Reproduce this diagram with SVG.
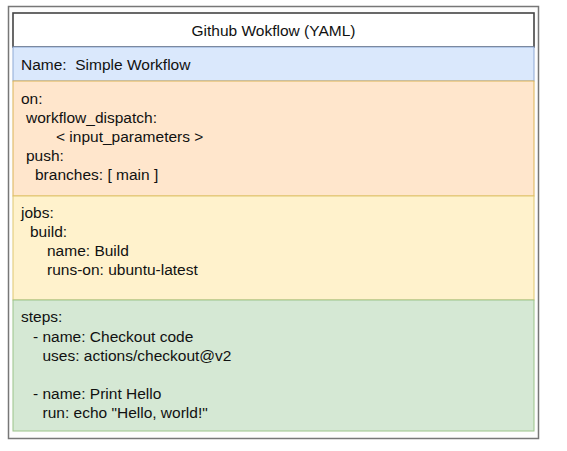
<svg xmlns="http://www.w3.org/2000/svg" width="567" height="451" viewBox="0 0 567 451">
<style>
text{font-family:"Liberation Sans",Arial,Helvetica,sans-serif;fill:#111;font-size:15.5px;}
</style>
<rect width="567" height="451" fill="#fff"/>
<g id="frame">
<rect x="8.5" y="6.5" width="530" height="432" fill="#fdfdfd" stroke="#777" stroke-width="1.5"/>
</g>
<g id="title">
<rect x="13" y="13" width="521" height="34" fill="#fff" stroke="#444" stroke-width="1.6"/>
<text x="273.5" y="36" text-anchor="middle">Github Wokflow (YAML)</text>
</g>
<g id="name">
<rect x="13" y="47" width="521" height="34" fill="#dae8fc" stroke="#8ea9d6" stroke-width="1"/>
<text x="21" y="70" xml:space="preserve">Name:  Simple Workflow</text>
</g>
<g id="on">
<rect x="13" y="81" width="521" height="115" fill="#ffe6cc" stroke="#dcb456" stroke-width="1"/>
<text x="21" y="104">on:</text>
<text x="26" y="123">workflow_dispatch:</text>
<text x="56" y="142">&lt; input_parameters &gt;</text>
<text x="26" y="161">push:</text>
<text x="35" y="180">branches: [ main ]</text>
</g>
<g id="jobs">
<rect x="13" y="196" width="521" height="104" fill="#fff2cc" stroke="#e0c870" stroke-width="1"/>
<text x="21" y="218">jobs:</text>
<text x="30" y="237">build:</text>
<text x="47" y="256">name: Build</text>
<text x="47" y="275">runs-on: ubuntu-latest</text>
</g>
<g id="steps">
<rect x="13" y="300" width="521" height="131" fill="#d5e8d4" stroke="#9bc48a" stroke-width="1"/>
<text x="21" y="322">steps:</text>
<text x="33" y="342">- name: Checkout code</text>
<text x="42.5" y="361">uses: actions/checkout@v2</text>
<text x="33" y="399">- name: Print Hello</text>
<text x="42.5" y="418">run: echo "Hello, world!"</text>
</g>
<g id="connectors"/>
</svg>
